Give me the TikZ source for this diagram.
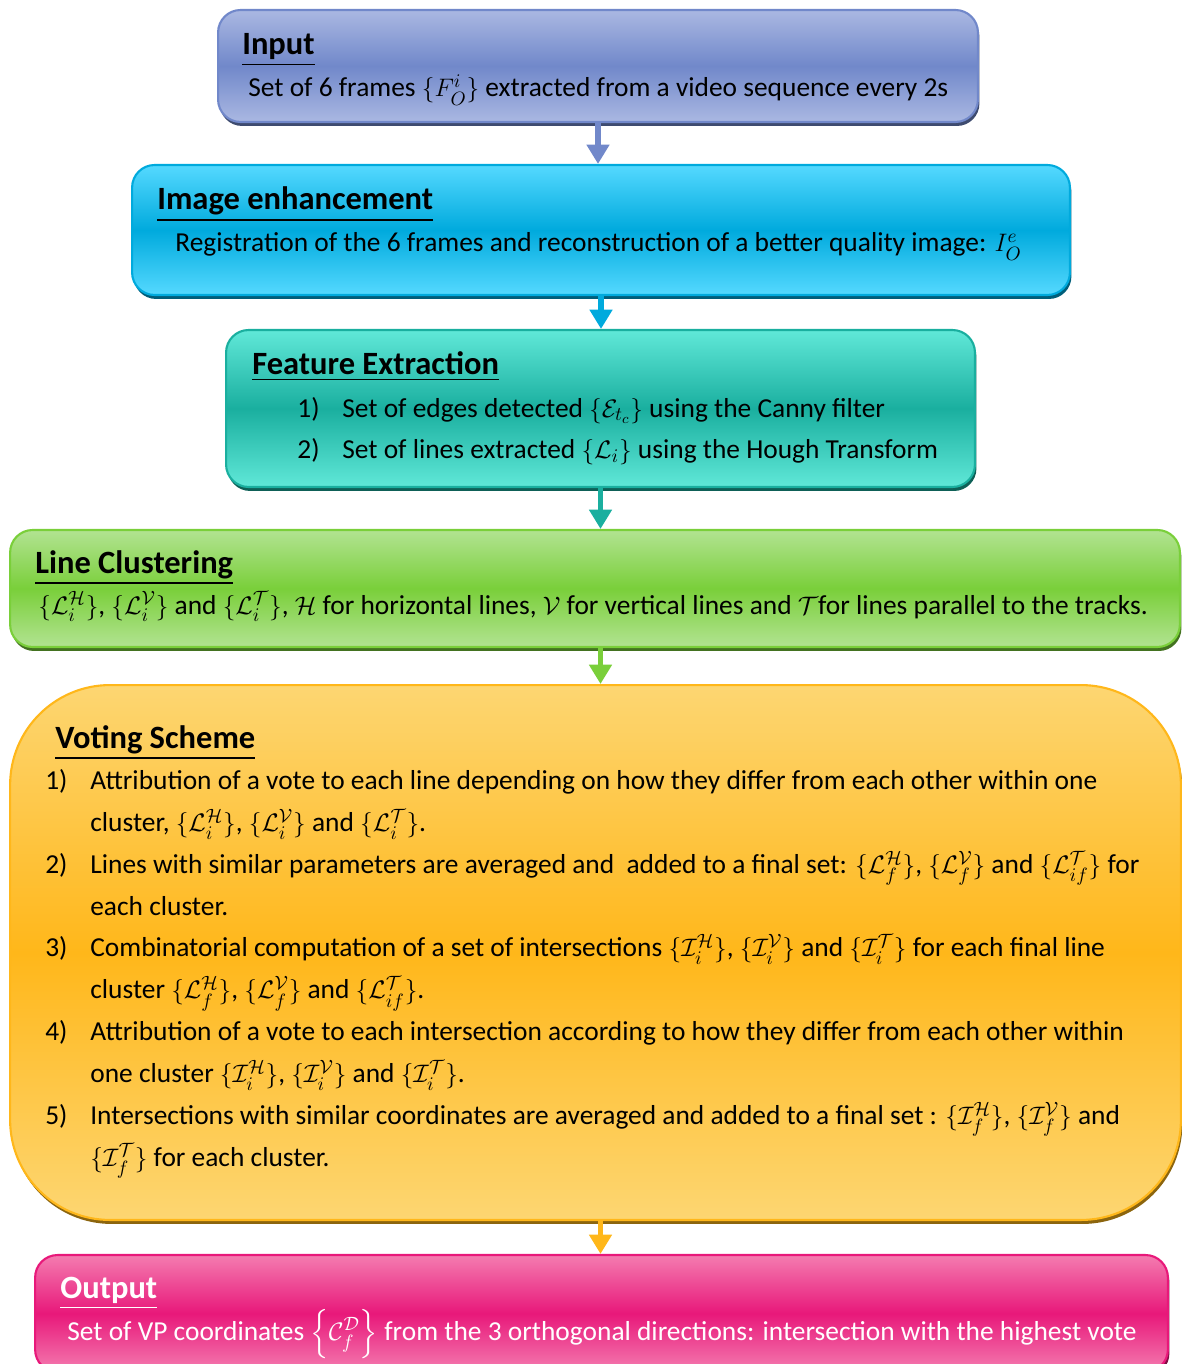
\documentclass[tikz,border=0pt]{standalone}
\usepackage{amsmath,amssymb}
\usepackage{fontspec}
\setmainfont{Carlito}
\usetikzlibrary{arrows.meta,positioning,calc,shadows}
\definecolor{inblue}{HTML}{7188CA}
\definecolor{inlight}{HTML}{AAB8E2}
\definecolor{encyan}{HTML}{00AADD}
\definecolor{enlight}{HTML}{55D9FF}
\definecolor{feteal}{HTML}{1AAF9F}
\definecolor{felight}{HTML}{60E8D8}
\definecolor{clgreen}{HTML}{7ACF3A}
\definecolor{cllight}{HTML}{B2E392}
\definecolor{voorange}{HTML}{FFB71A}
\definecolor{volight}{HTML}{FDD672}
\definecolor{oupink}{HTML}{E8187A}
\definecolor{oulight}{HTML}{F47CB0}
\newcommand{\stepno}[1]{\makebox[0.9cm][l]{#1}}
\newcommand{\stagetitle}[1]{\underline{\textbf{#1}}}
\tikzset{
  stagebox/.style={rounded corners=0.45cm, line width=1.2pt, inner sep=0pt},
  boxcol/.style 2 args={draw=#1, top color=#2, bottom color=#2, middle color=#1,
    drop shadow={shadow xshift=0.03cm, shadow yshift=-0.08cm, fill=#1!55!black, opacity=1}},
  titletext/.style={anchor=base west, inner sep=0pt, font=\fontsize{18.5}{22}\selectfont},
  bodytext/.style={anchor=base west, inner sep=0pt, align=left},
  flowarrow/.style={line width=3.4pt, -{Triangle[width=12.5pt,length=11pt]}}
}
\begin{document}
\begin{tikzpicture}[x=0.02cm,y=-0.02cm,font=\fontsize{15.6}{23.8}\selectfont]
\useasboundingbox (0,0) rectangle (1181,1364);
% stages
\node[stagebox,boxcol={inblue}{inlight},minimum width=15.2cm,minimum height=2.24cm] (input) at (598,66) {};
\node[stagebox,boxcol={encyan}{enlight},minimum width=18.76cm,minimum height=2.6cm] (enhance) at (601,230) {};
\node[stagebox,boxcol={feteal}{felight},minimum width=14.98cm,minimum height=3.14cm] (feature) at (600.5,408.5) {};
\node[stagebox,boxcol={clgreen}{cllight},minimum width=23.4cm,minimum height=2.34cm] (cluster) at (595,588.5) {};
\node[stagebox,rounded corners=2cm,boxcol={voorange}{volight},minimum width=23.42cm,minimum height=10.7cm] (voting) at (595.5,952.5) {};
\node[stagebox,boxcol={oupink}{oulight},minimum width=22.66cm,minimum height=2.34cm] (output) at (601.5,1313.5) {};
% texts (multi-line nodes sit on the baseline of their last line)
\node[titletext] (inputtitle) at (242,55) {\stagetitle{Input}};
\node[bodytext] (inputbody) at (248,97) {Set of 6 frames $\{F_O^i\}$ extracted from a video sequence every 2s};
\node[titletext] (enhancetitle) at (157,210) {\stagetitle{Image enhancement}};
\node[bodytext] (enhancebody) at (175,252) {Registration of the 6 frames and reconstruction of a better quality image: $I_O^e$};
\node[titletext] (featuretitle) at (252,375) {\stagetitle{Feature Extraction}};
\node[bodytext] (featurebody) at (297,459) {\stepno{1)}Set of edges detected $\left\{\mathcal{E}_{t_c}\right\}$ using the Canny filter\\
  \stepno{2)}Set of lines extracted $\{\mathcal{L}_i\}$ using the Hough Transform};
\node[titletext] (clustertitle) at (35,573) {\stagetitle{Line Clustering}};
\node[bodytext] (clusterbody) at (38,614) {$\{\mathcal{L}_i^{\mathcal{H}}\}$, $\{\mathcal{L}_i^{\mathcal{V}}\}$ and $\{\mathcal{L}_i^{\mathcal{T}}\}$, $\mathcal{H}$ for horizontal lines, $\mathcal{V}$ for vertical lines and $\mathcal{T}$for lines parallel to the tracks.};
\node[titletext] (votingtitle) at (55,748) {\stagetitle{Voting Scheme}};
\node[bodytext] (votingbody) at (45,1166) {\stepno{1)}Attribution of a vote to each line depending on how they differ from each other within one\\
  \hspace*{0.9cm}cluster, $\{\mathcal{L}_i^{\mathcal{H}}\}$, $\{\mathcal{L}_i^{\mathcal{V}}\}$ and $\{\mathcal{L}_i^{\mathcal{T}}\}$.\\
  \stepno{2)}Lines with similar parameters are averaged and\ \ added to a final set: $\{\mathcal{L}_f^{\mathcal{H}}\}$, $\{\mathcal{L}_f^{\mathcal{V}}\}$ and $\{\mathcal{L}_{if}^{\mathcal{T}}\}$ for\\
  \hspace*{0.9cm}each cluster.\\
  \stepno{3)}Combinatorial computation of a set of intersections $\{\mathcal{I}_i^{\mathcal{H}}\}$, $\{\mathcal{I}_i^{\mathcal{V}}\}$ and $\{\mathcal{I}_i^{\mathcal{T}}\}$ for each final line\\
  \hspace*{0.9cm}cluster $\{\mathcal{L}_f^{\mathcal{H}}\}$, $\{\mathcal{L}_f^{\mathcal{V}}\}$ and $\{\mathcal{L}_{if}^{\mathcal{T}}\}$.\\
  \stepno{4)}Attribution of a vote to each intersection according to how they differ from each other within\\
  \hspace*{0.9cm}one cluster $\{\mathcal{I}_i^{\mathcal{H}}\}$, $\{\mathcal{I}_i^{\mathcal{V}}\}$ and $\{\mathcal{I}_i^{\mathcal{T}}\}$.\\
  \stepno{5)}Intersections with similar coordinates are averaged and added to a final set : $\{\mathcal{I}_f^{\mathcal{H}}\}$, $\{\mathcal{I}_f^{\mathcal{V}}\}$ and\\
  \hspace*{0.9cm}$\{\mathcal{I}_f^{\mathcal{T}}\}$ for each cluster.};
\node[titletext,text=white] (outputtitle) at (60,1298) {\stagetitle{Output}};
\node[bodytext,text=white] (outputbody) at (67,1340) {Set of VP coordinates $\left\{\mathcal{C}_f^{\mathcal{D}}\right\}$ from the 3 orthogonal directions: intersection with the highest vote};
% arrows
\draw[flowarrow,inblue] (input.south) -- (input.south |- enhance.north);
\draw[flowarrow,encyan] (enhance.south) -- (enhance.south |- feature.north);
\draw[flowarrow,feteal] (feature.south) -- (feature.south |- cluster.north);
\draw[flowarrow,clgreen] (feature.south |- cluster.south) -- (feature.south |- voting.north);
\draw[flowarrow,voorange] (feature.south |- voting.south) -- (feature.south |- output.north);
\end{tikzpicture}
\end{document}
